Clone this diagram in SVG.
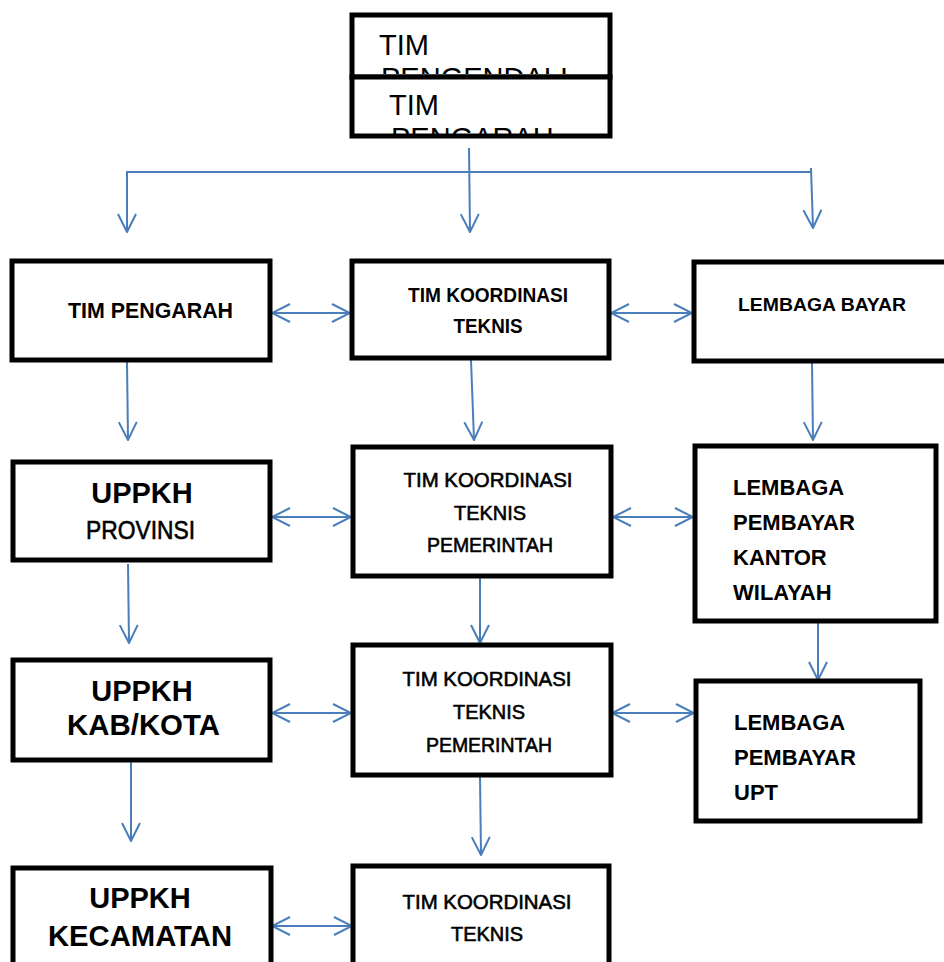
<svg xmlns="http://www.w3.org/2000/svg" width="944" height="962" viewBox="0 0 944 962">
<style>
.box{fill:#fff;stroke:#000;stroke-width:5;}
.t{font-family:"Liberation Sans",Arial,sans-serif;fill:#000;}
.b{font-weight:bold;}
.c{text-anchor:middle;}
.n{stroke:#000;stroke-width:0.6;}
.ln{fill:none;stroke:#4a7ebb;stroke-width:2;}
</style>
<defs>
<marker id="ah" viewBox="0 0 20 20" refX="19" refY="10" markerWidth="20" markerHeight="20" markerUnits="userSpaceOnUse" orient="auto-start-reverse">
<path d="M1,1 L19,10 L1,19" fill="none" stroke="#4a7ebb" stroke-width="2"/>
</marker>
<clipPath id="clipTop1"><rect x="354" y="17" width="254" height="57"/></clipPath>
<clipPath id="clipTop2"><rect x="354" y="79" width="254" height="55"/></clipPath>
</defs>

<g id="tim-pengendali">
<rect class="box" x="352" y="15" width="258" height="62"/>
<g clip-path="url(#clipTop1)">
<text class="t" x="379" y="55" font-size="29">TIM</text>
<text class="t" x="381" y="88" font-size="29">PENGENDALI</text>
</g>
</g>
<g id="tim-pengarah-top">
<rect class="box" x="352" y="77" width="258" height="59"/>
<g clip-path="url(#clipTop2)">
<text class="t" x="389" y="115" font-size="29">TIM</text>
<text class="t" x="391" y="148" font-size="29">PENGARAH</text>
</g>
</g>

<g id="connectors">
<polyline class="ln" points="469,148 470,232" marker-end="url(#ah)"/>
<polyline class="ln" points="127,232 127,172 811,172 811,168"/>
<line class="ln" x1="127" y1="172" x2="127" y2="232" marker-end="url(#ah)"/>
<line class="ln" x1="811" y1="168" x2="813" y2="228" marker-end="url(#ah)"/>

<line class="ln" x1="272" y1="313" x2="350" y2="313" marker-start="url(#ah)" marker-end="url(#ah)"/>
<line class="ln" x1="611" y1="313" x2="692" y2="313" marker-start="url(#ah)" marker-end="url(#ah)"/>
<line class="ln" x1="127" y1="362" x2="128" y2="440" marker-end="url(#ah)"/>
<line class="ln" x1="471" y1="360" x2="474" y2="440" marker-end="url(#ah)"/>
<line class="ln" x1="812" y1="363" x2="813" y2="440" marker-end="url(#ah)"/>

<line class="ln" x1="272" y1="517" x2="351" y2="517" marker-start="url(#ah)" marker-end="url(#ah)"/>
<line class="ln" x1="613" y1="517" x2="693" y2="517" marker-start="url(#ah)" marker-end="url(#ah)"/>
<line class="ln" x1="128" y1="564" x2="129" y2="643" marker-end="url(#ah)"/>
<line class="ln" x1="480" y1="578" x2="480" y2="643" marker-end="url(#ah)"/>
<line class="ln" x1="818" y1="623" x2="818" y2="680" marker-end="url(#ah)"/>

<line class="ln" x1="272" y1="713" x2="351" y2="713" marker-start="url(#ah)" marker-end="url(#ah)"/>
<line class="ln" x1="612" y1="713" x2="694" y2="713" marker-start="url(#ah)" marker-end="url(#ah)"/>
<line class="ln" x1="131" y1="762" x2="131" y2="841" marker-end="url(#ah)"/>
<line class="ln" x1="480" y1="777" x2="481" y2="855" marker-end="url(#ah)"/>

<line class="ln" x1="272" y1="926" x2="352" y2="926" marker-start="url(#ah)" marker-end="url(#ah)"/>
</g>

<g id="r1-tim-pengarah">
<rect class="box" x="12" y="261" width="258" height="99"/>
<text class="t b" x="68" y="318" font-size="22" textLength="165" lengthAdjust="spacingAndGlyphs">TIM PENGARAH</text>
</g>
<g id="r1-tim-koordinasi">
<rect class="box" x="352" y="261" width="257" height="97"/>
<text class="t b c" x="488" y="302" font-size="20" textLength="160" lengthAdjust="spacingAndGlyphs">TIM KOORDINASI</text>
<text class="t b c" x="488" y="333" font-size="20" textLength="69" lengthAdjust="spacingAndGlyphs">TEKNIS</text>
</g>
<g id="r1-lembaga-bayar">
<rect class="box" x="694" y="262" width="262" height="99"/>
<text class="t b" x="738" y="311" font-size="19" textLength="168" lengthAdjust="spacingAndGlyphs">LEMBAGA BAYAR</text>
</g>

<g id="r2-uppkh-provinsi">
<rect class="box" x="13" y="462" width="257" height="98"/>
<text class="t b c" x="142" y="503" font-size="29">UPPKH</text>
<text class="t n" x="86" y="539" font-size="25" textLength="109" lengthAdjust="spacingAndGlyphs">PROVINSI</text>
</g>
<g id="r2-tim-koordinasi">
<rect class="box" x="353" y="447" width="258" height="129"/>
<text class="t c n" x="488" y="487" font-size="21" textLength="169" lengthAdjust="spacingAndGlyphs">TIM KOORDINASI</text>
<text class="t c n" x="490" y="520" font-size="21" textLength="72" lengthAdjust="spacingAndGlyphs">TEKNIS</text>
<text class="t c n" x="490" y="552" font-size="21" textLength="126" lengthAdjust="spacingAndGlyphs">PEMERINTAH</text>
</g>
<g id="r2-lembaga-kanwil">
<rect class="box" x="695" y="446" width="241" height="175"/>
<text class="t b" x="733" y="495" font-size="22">LEMBAGA</text>
<text class="t b" x="733" y="530" font-size="22">PEMBAYAR</text>
<text class="t b" x="733" y="565" font-size="22">KANTOR</text>
<text class="t b" x="733" y="600" font-size="22">WILAYAH</text>
</g>

<g id="r3-uppkh-kabkota">
<rect class="box" x="13" y="660" width="257" height="100"/>
<text class="t b c" x="142" y="701" font-size="29">UPPKH</text>
<text class="t b" x="67" y="735" font-size="29" textLength="153" lengthAdjust="spacingAndGlyphs">KAB/KOTA</text>
</g>
<g id="r3-tim-koordinasi">
<rect class="box" x="353" y="645" width="258" height="130"/>
<text class="t c n" x="487" y="686" font-size="21" textLength="169" lengthAdjust="spacingAndGlyphs">TIM KOORDINASI</text>
<text class="t c n" x="489" y="719" font-size="21" textLength="72" lengthAdjust="spacingAndGlyphs">TEKNIS</text>
<text class="t c n" x="489" y="752" font-size="21" textLength="126" lengthAdjust="spacingAndGlyphs">PEMERINTAH</text>
</g>
<g id="r3-lembaga-upt">
<rect class="box" x="696" y="681" width="224" height="140"/>
<text class="t b" x="734" y="730" font-size="22">LEMBAGA</text>
<text class="t b" x="734" y="765" font-size="22">PEMBAYAR</text>
<text class="t b" x="734" y="800" font-size="22">UPT</text>
</g>

<g id="r4-uppkh-kecamatan">
<rect class="box" x="13" y="868" width="258" height="110"/>
<text class="t b c" x="140" y="908" font-size="29">UPPKH</text>
<text class="t b" x="48" y="946" font-size="29" textLength="184" lengthAdjust="spacingAndGlyphs">KECAMATAN</text>
</g>
<g id="r4-tim-koordinasi">
<rect class="box" x="353" y="866" width="256" height="110"/>
<text class="t c n" x="487" y="909" font-size="21" textLength="169" lengthAdjust="spacingAndGlyphs">TIM KOORDINASI</text>
<text class="t c n" x="487" y="941" font-size="21" textLength="72" lengthAdjust="spacingAndGlyphs">TEKNIS</text>
</g>
</svg>
